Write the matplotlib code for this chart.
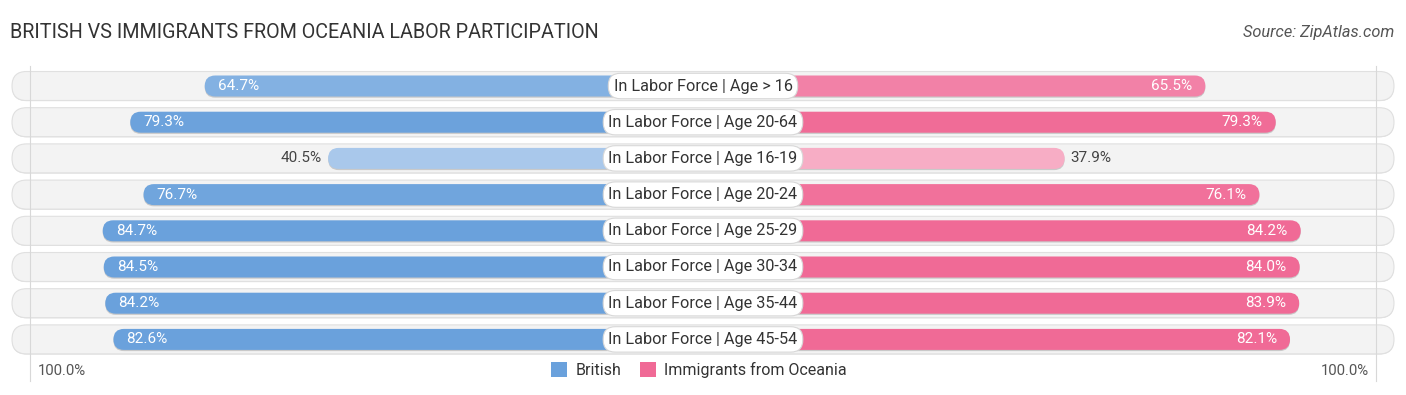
import matplotlib
matplotlib.use("Agg")
import matplotlib.pyplot as plt
from matplotlib.patches import FancyBboxPatch, Patch
from matplotlib.patches import BoxStyle
import numpy as np

plt.rcParams['font.family'] = ['Roboto', 'DejaVu Sans']

# ---- data ----
categories = [
    "In Labor Force | Age > 16",
    "In Labor Force | Age 20-64",
    "In Labor Force | Age 16-19",
    "In Labor Force | Age 20-24",
    "In Labor Force | Age 25-29",
    "In Labor Force | Age 30-34",
    "In Labor Force | Age 35-44",
    "In Labor Force | Age 45-54",
]
british = [64.7, 79.3, 40.5, 76.7, 84.7, 84.5, 84.2, 82.6]
oceania = [65.5, 79.3, 37.9, 76.1, 84.2, 84.0, 83.9, 82.1]
series_names = ["British", "Immigrants from Oceania"]
title = "BRITISH VS IMMIGRANTS FROM OCEANIA LABOR PARTICIPATION"
source = "Source: ZipAtlas.com"

# ---- layout (pixels) ----
W, H = 1406, 395
CX = 703.0          # centre x in px
XPX = 5.1           # px per percentage point
YPX = 36.2          # px per row
ROW0 = 86.0         # px of first row centre
OFFSET = 33.0       # bar offset (in pct units) hidden behind the label

BLUE = np.array([0x6a, 0xa1, 0xdc]) / 255
PINK = np.array([0xf0, 0x6a, 0x96]) / 255

def tint(c, v):
    w = max(0.0, min(0.45, 0.42 - 0.0105 * (v - 40.5)))
    return tuple(c + (1 - c) * w)

fig = plt.figure(figsize=(W / 100, H / 100), dpi=100)
ax = fig.add_axes([0, 0, 1, 1])
ax.set_xlim(-CX / XPX, (W - CX) / XPX)
ax.set_ylim((H - ROW0) / YPX, -ROW0 / YPX)
ax.axis('off')

def px_x(p):
    return (p - CX) / XPX

def px_y(p):
    return (p - ROW0) / YPX

aspect = XPX / YPX

def rbox(x0, x1, yc, hpx, fc, ec='none', lw=0, z=1):
    h = hpx / YPX
    r = (hpx / 2) / XPX
    p = FancyBboxPatch((x0, yc - h / 2), x1 - x0, h,
                       boxstyle=BoxStyle.Round(pad=0, rounding_size=r),
                       mutation_aspect=aspect, fc=fc, ec=ec, lw=lw, zorder=z)
    ax.add_patch(p)

n = len(categories)
# background rows
for i in range(n):
    rbox(px_x(12), px_x(1394), i + 0.6 / YPX, 29, '#dadada', z=0.5)
    rbox(px_x(12), px_x(1394), i, 29, '#f3f3f3', ec='#e0e0e0', lw=0.8, z=1)

# grid lines
for gx in (30, 1376):
    ax.plot([px_x(gx), px_x(gx)], [px_y(66), px_y(381)], color='#d8d8d8', lw=0.8, zorder=1.5)

for i, (cat, b, o) in enumerate(zip(categories, british, oceania)):
    # shadows
    rbox(-(OFFSET + b), 0, i + 1.2 / YPX, 21, '#c9c9c9', z=1.8)
    rbox(0, OFFSET + o, i + 1.2 / YPX, 21, '#c9c9c9', z=1.8)
    rbox(-(OFFSET + b), 0, i, 21, tint(BLUE, b), z=2)
    rbox(0, OFFSET + o, i, 21, tint(PINK, o), z=2)
    # value labels
    if b > 50:
        ax.text(-(OFFSET + b) + 13 / XPX, i, f"{b:.1f}%", color='white', fontsize=11,
                ha='left', va='center', zorder=4)
    else:
        ax.text(-(OFFSET + b) - 6 / XPX, i, f"{b:.1f}%", color='#444444', fontsize=11,
                ha='right', va='center', zorder=4)
    if o > 50:
        ax.text((OFFSET + o) - 13 / XPX, i, f"{o:.1f}%", color='white', fontsize=11,
                ha='right', va='center', zorder=4)
    else:
        ax.text((OFFSET + o) + 6 / XPX, i, f"{o:.1f}%", color='#444444', fontsize=11,
                ha='left', va='center', zorder=4)
    # centre label
    ax.text(0, i, cat, ha='center', va='center', fontsize=11.7, color='#333333', zorder=5,
            bbox=dict(boxstyle='round,pad=0.32,rounding_size=0.75', fc='white',
                      ec='#d8d8d8', lw=0.8))

# axis end labels
ax.text(px_x(38), px_y(371), "100.0%", ha='left', va='center', fontsize=10.7, color='#555555')
ax.text(px_x(1369), px_y(371), "100.0%", ha='right', va='center', fontsize=10.7, color='#555555')

# legend
handles = [Patch(fc=BLUE, ec='none'), Patch(fc=PINK, ec='none')]
fig.legend(handles, series_names, loc='center', bbox_to_anchor=(699 / W, 1 - 370 / H),
           ncol=2, frameon=False, fontsize=11.5, handlelength=1.0, handleheight=1.1,
           handletextpad=0.5, columnspacing=1.2, labelcolor='#333333')

fig.text(10 / W, 1 - 33 / H, title, ha='left', va='center', fontsize=14.2, color='#333333')
fig.text(1394 / W, 1 - 33 / H, source, ha='right', va='center', fontsize=11.8, color='#555555',
         style='italic')

fig.savefig("out.png", dpi=100)
